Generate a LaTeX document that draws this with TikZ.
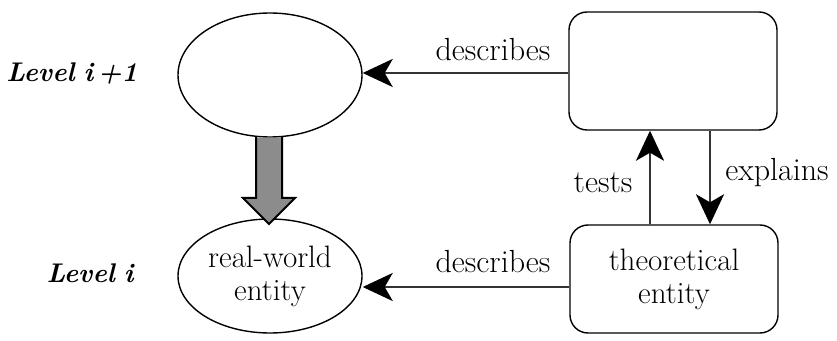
\documentclass[tikz,border=0pt]{standalone}
\usetikzlibrary{arrows.meta,shapes.geometric}
\begin{document}
\begin{tikzpicture}[x=1pt,y=1pt,
  ell/.style={draw,line width=1.4pt,ellipse,minimum width=184pt,minimum height=124pt,inner sep=0pt,align=center,font=\fontsize{31}{33}\selectfont},
  rbox/.style={draw,line width=1.4pt,rounded corners=18pt,minimum width=208pt,minimum height=110pt,inner sep=0pt,align=center,font=\fontsize{31}{33}\selectfont},
  conn/.style={line width=2.6pt,draw=black!80,-{Stealth[length=30pt,width=28pt,inset=8pt,color=black]}},
  lbl/.style={font=\fontsize{32}{34}\selectfont,inner sep=0pt},
  lvl/.style={font=\bfseries\itshape\fontsize{27}{29}\selectfont,inner sep=0pt}]
\useasboundingbox (0,0) rectangle (837,340);
% y_tikz = 340 - y_px
\node[ell] (top) at (270,265) {};
\node[ell,minimum height=114pt] (bot) at (270,64) {real-world\\entity};
\node[rbox,minimum height=118pt] (R1) at (673,269) {};
\node[rbox,minimum height=108pt] (R2) at (674,61) {theoretical\\entity};
\node[lvl] (L1) at (72,267) {Level\,\,i\,+1};
\node[lvl] (L0) at (90,67) {Level\,\,i};
% describes arrows
\draw[conn] (R1.west |- 0,267) -- (top.east |- 0,267);
\node[lbl] (d1) at (493,290) {describes};
\draw[conn] (R2.west |- 0,53) -- (bot.east |- 0,53);
\node[lbl] (d2) at (493,78) {describes};
% tests / explains
\draw[conn] (R2.north -| 650,0) -- (R1.south -| 650,0);
\node[lbl] (t) at (603,157) {tests};
\draw[conn] (R1.south -| 710,0) -- (R2.north -| 710,0);
\node[lbl] (e) at (777,167) {explains};
% block arrow
\fill[black!45] (top.south -| 256,0) -- (256,142) -- (243,142) -- (269,116) -- (295,142) -- (282,142) -- (top.south -| 282,0) -- cycle;
\draw[line width=2pt] (256,203) -- (256,142) -- (243,142) -- (269,116) -- (295,142) -- (282,142) -- (282,203);
\end{tikzpicture}
\end{document}
